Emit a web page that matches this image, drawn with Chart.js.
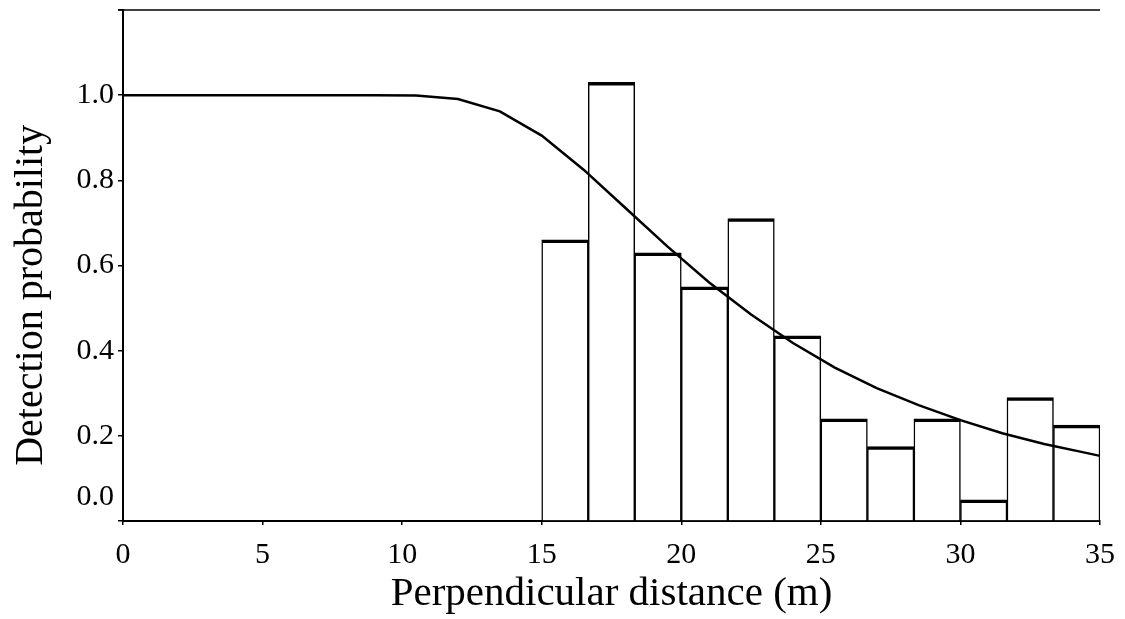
<!DOCTYPE html>
<html>
<head>
<meta charset="utf-8">
<script src="https://cdn.jsdelivr.net/npm/chart.js@4/dist/chart.umd.min.js"></script>
<style>
  html, body { margin: 0; padding: 0; background: #fff; }
  #wrap { width: 1125px; height: 619px; }
</style>
</head>
<body>
<div id="wrap"><canvas id="c" width="1125" height="619"></canvas></div>
<script>
// histogram bins (m) and scaled heights
const binEdges = [15, 16.667, 18.333, 20, 21.667, 23.333, 25, 26.667, 28.333, 30, 31.667, 33.333, 35];
const binHeights = [0.66, 1.03, 0.63, 0.55, 0.71, 0.435, 0.24, 0.175, 0.24, 0.05, 0.29, 0.225];

// fitted detection function
const curveX = [0, 1.5, 3, 4.5, 6, 7.5, 9, 10.5, 12, 13.5, 15, 16.5, 18, 19.5, 21, 22.5, 24, 25.5, 27, 28.5, 30, 31.5, 33, 34.5, 35];
const curveY = [1, 1, 1, 1, 1, 1, 1, 0.999, 0.991, 0.962, 0.905, 0.825, 0.735, 0.645, 0.56, 0.485, 0.418, 0.36, 0.312, 0.272, 0.237, 0.206, 0.181, 0.16, 0.153];

const yTicks = [0, 0.2, 0.4, 0.6, 0.8, 1.0, 1.2];
const xTicks = [0, 5, 10, 15, 20, 25, 30, 35];

const yTitle = 'Detection probability';
const xTitle = 'Perpendicular distance (m)';

const serif = '"Liberation Serif", "Times New Roman", serif';

const bars = binHeights.map((h, i) => ({ x: (binEdges[i] + binEdges[i + 1]) / 2, y: h }));
const curve = curveX.map((x, i) => ({ x: x, y: curveY[i] }));

// top frame line, the "0.0" label that sits a bit above its tick,
// and the y title which is set lower than the middle of the axis
const extras = {
  id: 'extras',
  afterDraw(chart) {
    const { ctx, chartArea } = chart;
    const y = chart.scales.y;
    ctx.save();
    ctx.strokeStyle = '#000';
    ctx.lineWidth = 1.5;
    ctx.beginPath();
    ctx.moveTo(chartArea.left - 5, chartArea.top);
    ctx.lineTo(chartArea.right, chartArea.top);
    ctx.stroke();

    ctx.fillStyle = '#000';
    ctx.font = '30px ' + serif;
    ctx.textAlign = 'right';
    ctx.textBaseline = 'middle';
    ctx.fillText('0.0', chartArea.left - 9, y.getPixelForValue(0.056));

    ctx.font = '40px ' + serif;
    ctx.textAlign = 'center';
    ctx.textBaseline = 'alphabetic';
    ctx.translate(chartArea.left - 81, y.getPixelForValue(0.53));
    ctx.rotate(-Math.PI / 2);
    ctx.fillText(yTitle, 0, 0);
    ctx.restore();
  }
};

new Chart(document.getElementById('c'), {
  type: 'bar',
  data: {
    datasets: [
      {
        type: 'line',
        data: curve,
        borderColor: '#000',
        borderWidth: 2.5,
        pointRadius: 0,
        tension: 0,
        fill: false,
        order: 0,
        clip: false
      },
      {
        type: 'bar',
        data: bars,
        backgroundColor: '#fff',
        borderColor: '#000',
        borderWidth: { top: 3.5, left: 1.5, right: 1.5, bottom: 0 },
        borderSkipped: false,
        barPercentage: 1,
        categoryPercentage: 1,
        order: 1
      }
    ]
  },
  options: {
    responsive: false,
    animation: false,
    layout: { padding: { top: 10, right: 25, left: 0, bottom: 0 } },
    plugins: { legend: { display: false }, tooltip: { enabled: false } },
    scales: {
      x: {
        type: 'linear',
        min: 0,
        max: 35,
        offset: false,
        afterBuildTicks: s => { s.ticks = xTicks.map(v => ({ value: v })); },
        ticks: { color: '#000', font: { family: serif, size: 30, lineHeight: 1 }, padding: 15, maxRotation: 0 },
        grid: { offset: false, drawOnChartArea: false, drawTicks: true, tickLength: 4, color: '#000', lineWidth: 1.5 },
        border: { display: true, color: '#000', width: 2 },
        title: {
          display: true,
          text: xTitle,
          color: '#000',
          font: { family: serif, size: 41 },
          padding: { top: 0, bottom: 0 }
        },
        afterFit: s => { s.height = 98; s.paddingLeft = 0; s.paddingRight = 0; }
      },
      y: {
        min: 0,
        max: 1.2,
        afterBuildTicks: s => { s.ticks = yTicks.map(v => ({ value: v })); },
        ticks: {
          color: '#000',
          font: { family: serif, size: 30, lineHeight: 1 },
          padding: 4,
          callback: v => (v === 0 || v > 1.1) ? '' : v.toFixed(1)
        },
        grid: { offset: false, drawOnChartArea: false, drawTicks: true, tickLength: 5, color: '#000', lineWidth: 1.5 },
        border: { display: true, color: '#000', width: 2 },
        afterFit: s => { s.width = 123; s.paddingTop = 0; s.paddingBottom = 0; }
      }
    }
  },
  plugins: [extras]
});
</script>
</body>
</html>
